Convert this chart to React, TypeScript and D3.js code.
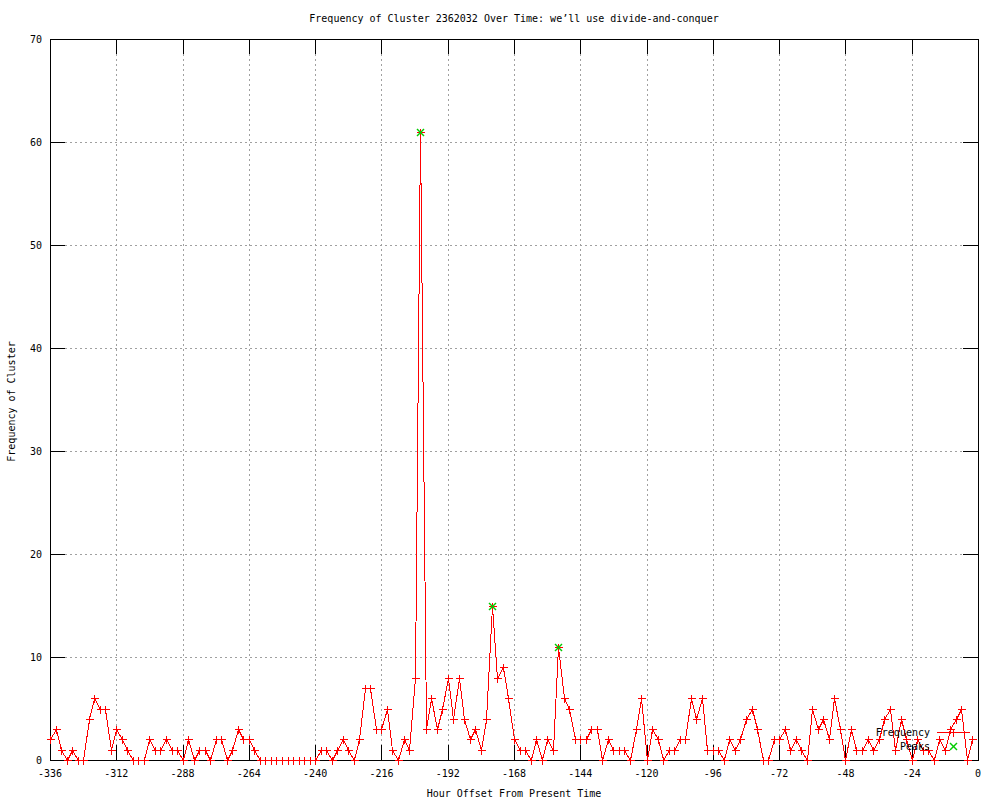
import React from "react";
import * as d3 from "d3";

const TITLE = "Frequency of Cluster 2362032 Over Time: we\u2019ll use divide-and-conquer";
const X_LABEL = "Hour Offset From Present Time";
const Y_LABEL = "Frequency of Cluster";

// hourly offsets, sampled every 2 hours starting at -336
const hours: number[] = d3.range(-336, 0, 2);

const frequency: number[] = [
  2, 3, 1, 0, 1, 0, 0, 4, 6, 5,
  5, 1, 3, 2, 1, 0, 0, 0, 2, 1,
  1, 2, 1, 1, 0, 2, 0, 1, 1, 0,
  2, 2, 0, 1, 3, 2, 2, 1, 0, 0,
  0, 0, 0, 0, 0, 0, 0, 0, 0, 1,
  1, 0, 1, 2, 1, 0, 2, 7, 7, 3,
  3, 5, 1, 0, 2, 1, 8, 61, 3, 6,
  3, 5, 8, 4, 8, 4, 2, 3, 1, 4,
  15, 8, 9, 6, 2, 1, 1, 0, 2, 0,
  2, 1, 11, 6, 5, 2, 2, 2, 3, 3,
  0, 2, 1, 1, 1, 0, 3, 6, 0, 3,
  2, 0, 1, 1, 2, 2, 6, 4, 6, 1,
  1, 1, 0, 2, 1, 2, 4, 5, 3, 0,
  0, 2, 2, 3, 1, 2, 1, 0, 5, 3,
  4, 2, 6, 3, 0, 3, 1, 1, 2, 1,
  2, 4, 5, 1, 4, 2, 0, 2, 1, 1,
  0, 2, 1, 3, 4, 5, 0, 2,
];

const peakHours: number[] = [-202, -176, -152];
const peakValues: number[] = [61, 15, 11];

const xTicks: number[] = [-336, -312, -288, -264, -240, -216, -192, -168, -144, -120, -96, -72, -48, -24, 0];
const yTicks: number[] = [0, 10, 20, 30, 40, 50, 60, 70];

const W = 1000;
const H = 800;
const L = 50;
const R = 978;
const T = 39;
const B = 760;
const FONT = "'DejaVu Sans Mono', 'Liberation Mono', monospace";
const RED = "#ff0000";
const GREEN = "#00cc00";
const TICK = 15;
const MS = 3.5;

export default function App() {
  const x = d3.scaleLinear().domain([-336, 0]).range([L, R]);
  const y = d3.scaleLinear().domain([0, 70]).range([B, T]);
  const pts = hours.map((h, i) => [Math.round(x(h)) + 0.5, Math.round(y(frequency[i])) + 0.5] as [number, number]);
  const line = d3.line<[number, number]>().x((d) => d[0]).y((d) => d[1]);

  const plus = (cx: number, cy: number, color: string, key: string) => (
    <g key={key} stroke={color} strokeWidth={1} shapeRendering="crispEdges">
      <line x1={cx - MS - 0.5} x2={cx + MS + 0.5} y1={cy} y2={cy} />
      <line x1={cx} x2={cx} y1={cy - MS - 0.5} y2={cy + MS + 0.5} />
    </g>
  );
  const cross = (cx: number, cy: number, color: string, key: string) => (
    <g key={key} stroke={color} strokeWidth={1.4}>
      <line x1={cx - MS} x2={cx + MS} y1={cy - MS} y2={cy + MS} />
      <line x1={cx - MS} x2={cx + MS} y1={cy + MS} y2={cy - MS} />
    </g>
  );

  return (
    <svg
      width={W}
      height={H}
      style={{ position: "absolute", left: 0, top: 0, background: "#fff" }}
      fontFamily={FONT}
      fontSize={10}
    >
      <rect x={0} y={0} width={W} height={H} fill="#fff" />
      {/* grid */}
      <g stroke="#a0a0a0" strokeWidth={1} strokeDasharray="2,3" shapeRendering="crispEdges">
        {xTicks
          .filter((t) => t !== -336 && t !== 0)
          .map((t) => (
            <line key={"gx" + t} x1={Math.round(x(t)) + 0.5} x2={Math.round(x(t)) + 0.5} y1={T} y2={B} />
          ))}
        {yTicks
          .filter((t) => t !== 0 && t !== 70)
          .map((t) => (
            <line key={"gy" + t} x1={L} x2={R} y1={Math.round(y(t)) + 0.5} y2={Math.round(y(t)) + 0.5} />
          ))}
      </g>
      {/* ticks */}
      <g stroke="#000" strokeWidth={1} shapeRendering="crispEdges">
        {xTicks.map((t) => {
          const px = Math.round(x(t)) + 0.5;
          return (
            <g key={"tx" + t}>
              <line x1={px} x2={px} y1={B} y2={B - TICK} />
              <line x1={px} x2={px} y1={T} y2={T + TICK} />
            </g>
          );
        })}
        {yTicks.map((t) => {
          const py = Math.round(y(t)) + 0.5;
          return (
            <g key={"ty" + t}>
              <line x1={L} x2={L + TICK} y1={py} y2={py} />
              <line x1={R} x2={R - TICK} y1={py} y2={py} />
            </g>
          );
        })}
        <rect x={L + 0.5} y={T + 0.5} width={R - L} height={B - T} fill="none" />
      </g>
      {/* tick labels */}
      <g fill="#000">
        {xTicks.map((t) => (
          <text key={"lx" + t} x={x(t)} y={777} textAnchor="middle">
            {t}
          </text>
        ))}
        {yTicks.map((t) => (
          <text key={"ly" + t} x={42} y={y(t) + 4} textAnchor="end">
            {t}
          </text>
        ))}
      </g>
      {/* titles */}
      <text x={(L + R) / 2} y={22} textAnchor="middle" fill="#000">
        {TITLE}
      </text>
      <text x={(L + R) / 2} y={797} textAnchor="middle" fill="#000">
        {X_LABEL}
      </text>
      <text
        transform={`translate(15, ${(T + B) / 2 + 2}) rotate(-90)`}
        textAnchor="middle"
        fill="#000"
      >
        {Y_LABEL}
      </text>
      {/* data */}
      <path d={line(pts) || ""} fill="none" stroke={RED} strokeWidth={1} shapeRendering="crispEdges" />
      <g>
        {pts.map((p, i) => plus(p[0], p[1], RED, "p" + i))}
        {peakHours.map((h, i) =>
          cross(Math.round(x(h)) + 0.5, Math.round(y(peakValues[i])) + 0.5, GREEN, "k" + i)
        )}
      </g>
      {/* legend */}
      <text x={930} y={736} textAnchor="end" fill="#000">
        Frequency
      </text>
      <line x1={937} x2={970} y1={732.5} y2={732.5} stroke={RED} shapeRendering="crispEdges" />
      {plus(953.5, 732.5, RED, "legp")}
      <text x={930} y={750} textAnchor="end" fill="#000">
        Peaks
      </text>
      {cross(953.5, 746.5, GREEN, "legk")}
    </svg>
  );
}
